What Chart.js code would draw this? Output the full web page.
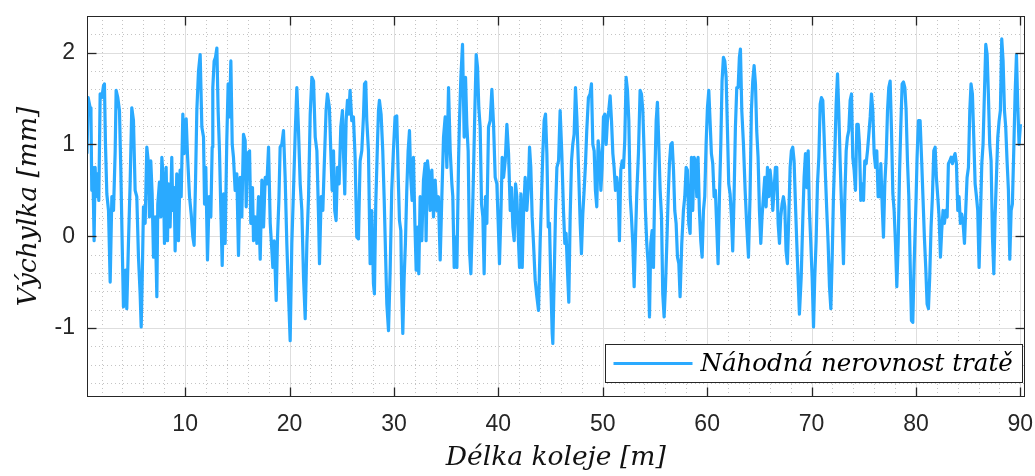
<!DOCTYPE html>
<html>
<head>
<meta charset="utf-8">
<script src="https://cdn.jsdelivr.net/npm/chart.js@4.4.1/dist/chart.umd.min.js"></script>
<style>
  html, body { margin: 0; padding: 0; background: #ffffff; }
  #wrap { width: 1035px; height: 476px; }
</style>
</head>
<body>
<div id="wrap"><canvas id="c" width="1035" height="476"></canvas></div>
<script>
// ---- data ----
const seriesLabel = 'Náhodná nerovnost tratě';
const xTitle = 'Délka koleje [m]';
const yTitle = 'Výchylka [mm]';
const xTickValues = [10, 20, 30, 40, 50, 60, 70, 80, 90];
const yTickValues = [-1, 0, 1, 2];

const distanceM = [
  0.60,0.71,0.90,0.98,1.06,1.16,1.28,1.38,1.48,1.60,
  1.73,1.86,2.02,2.18,2.27,2.37,2.50,2.66,2.82,2.98,
  3.14,3.30,3.39,3.55,3.71,3.84,3.97,4.09,4.29,4.41,
  4.57,4.73,4.89,5.05,5.21,5.37,5.53,5.69,5.79,5.88,
  6.01,6.17,6.33,6.49,6.58,6.71,6.84,6.97,7.13,7.29,
  7.38,7.54,7.67,7.77,7.93,8.02,8.18,8.31,8.40,8.56,
  8.72,8.82,8.95,9.04,9.20,9.36,9.52,9.62,9.78,9.91,
  10.10,10.22,10.42,10.58,10.74,10.86,10.99,11.12,11.28,
  11.44,11.60,11.76,11.86,11.98,12.14,12.30,12.46,12.59,12.65,
  12.78,12.91,13.04,13.16,13.29,13.42,13.55,13.68,13.83,13.99,
  14.12,14.25,14.38,14.51,14.63,14.79,14.95,15.11,15.27,15.43,
  15.59,15.75,15.85,15.97,16.17,16.29,16.45,16.55,16.71,16.87,
  17.03,17.19,17.35,17.51,17.67,17.83,17.99,18.15,18.31,18.40,
  18.53,18.72,18.85,18.98,19.10,19.26,19.42,19.58,19.74,19.90,
  20.06,20.22,20.38,20.54,20.70,20.86,21.02,21.18,21.34,21.50,
  21.66,21.82,21.98,22.14,22.30,22.46,22.62,22.78,22.87,
  23.03,23.19,23.31,23.50,23.63,23.82,23.95,24.08,24.21,24.33,
  24.46,24.59,24.75,24.91,25.07,25.17,25.29,25.42,25.55,25.68,
  25.80,25.96,26.12,26.28,26.44,26.60,26.76,26.92,27.08,27.18,
  27.30,27.40,27.56,27.72,27.88,28.04,28.13,28.26,28.42,28.52,
  28.61,28.77,28.93,29.06,29.19,29.32,29.48,29.64,29.79,29.95,
  30.11,30.27,30.43,30.53,30.66,30.75,30.85,30.98,31.10,31.23,
  31.36,31.49,31.61,31.74,31.87,32.00,32.13,32.25,32.38,32.51,
  32.67,32.83,32.99,33.08,33.21,33.34,33.47,33.63,33.79,33.95,
  34.11,34.26,
  34.43,34.59,34.75,34.91,35.07,35.23,35.39,35.55,35.64,35.77,
  35.90,36.03,36.19,36.28,36.41,36.57,36.73,36.86,36.98,37.11,
  37.24,37.37,37.50,37.62,37.75,37.88,38.01,38.13,38.26,38.39,
  38.52,38.64,38.77,38.90,39.06,39.22,39.38,39.54,39.70,39.86,
  39.99,40.11,40.24,40.37,40.50,40.66,40.82,40.98,41.14,41.26,
  41.39,41.52,41.65,41.77,41.90,42.03,42.16,42.29,42.41,42.57,
  42.73,42.89,42.99,43.11,43.24,43.37,43.53,43.69,43.85,44.01,
  44.14,44.26,44.39,44.52,44.65,44.78,44.90,45.03,45.16,45.22,
  45.35,45.48,45.61,45.77,
  45.92,46.08,46.24,46.37,46.49,46.62,46.75,46.88,47.01,47.13,
  47.26,47.39,47.52,47.68,47.84,47.96,48.09,48.22,48.35,48.47,
  48.63,48.79,48.92,49.05,49.18,49.30,49.43,49.56,49.69,49.82,
  49.94,50.07,50.20,50.33,50.45,50.58,50.71,50.84,50.97,51.09,
  51.22,51.35,51.48,51.60,51.73,51.86,51.99,52.11,52.24,52.37,
  52.50,52.63,52.75,52.88,53.01,53.14,53.26,53.42,53.58,53.71,
  53.84,53.97,54.09,54.22,54.35,54.48,54.60,54.73,54.86,54.99,
  55.12,55.24,55.37,55.50,55.63,55.75,55.88,56.01,56.14,56.27,
  56.39,56.52,56.65,56.78,56.90,57.03,57.16,57.29,
  57.41,57.57,57.73,57.86,57.99,58.11,58.24,58.37,58.50,58.62,
  58.75,58.88,59.01,59.13,59.26,59.39,59.52,59.65,59.77,59.90,
  60.03,60.16,60.28,60.41,60.54,60.67,60.79,60.92,61.05,61.18,
  61.31,61.43,61.56,61.69,61.82,61.94,62.07,62.20,62.33,62.45,
  62.58,62.71,62.84,62.97,63.09,63.19,63.32,63.48,63.64,63.80,
  63.96,64.11,64.24,64.37,64.50,64.63,64.75,64.88,65.01,65.14,
  65.26,65.39,65.52,65.65,65.78,65.90,66.03,66.16,66.29,66.41,
  66.54,66.67,66.80,66.93,67.05,67.18,67.31,67.44,67.56,67.69,
  67.82,67.95,68.07,68.20,68.33,68.46,68.59,68.71,68.84,
  69.01,69.17,69.29,69.42,69.55,69.68,69.80,69.93,70.06,70.19,
  70.31,70.44,70.57,70.70,70.83,70.95,71.08,71.21,71.34,71.46,
  71.59,71.72,71.85,71.98,72.10,72.23,72.36,72.49,72.61,72.74,
  72.87,73.00,73.06,73.19,73.32,73.44,73.57,73.70,73.83,73.95,
  74.08,74.21,74.34,74.47,74.59,74.72,74.85,74.98,75.10,75.23,
  75.36,75.49,75.62,75.74,75.87,76.00,76.13,76.25,76.38,76.51,
  76.64,76.77,76.89,77.02,77.15,77.28,77.40,77.53,77.66,77.79,
  77.91,78.04,78.17,78.30,78.43,78.55,78.68,78.81,78.94,79.06,
  79.19,79.32,79.45,79.57,79.70,79.83,
  80.02,80.11,80.24,80.40,80.56,80.72,80.81,80.94,81.07,81.20,
  81.32,81.45,81.58,81.71,81.84,81.96,82.09,82.22,82.35,82.47,
  82.60,82.73,82.86,82.99,83.11,83.24,83.37,83.50,83.62,83.75,
  83.88,84.01,84.13,84.26,84.39,84.52,84.65,84.77,84.90,85.03,
  85.16,85.28,85.41,85.54,85.67,85.80,85.92,86.05,86.18,86.31,
  86.43,86.56,86.69,86.82,86.94,87.07,87.20,87.33,87.46,87.58,
  87.71,87.84,87.97,88.09,88.22,88.35,88.48,88.60,88.73,88.86,
  88.99,89.12,89.24,89.37,89.50,89.63,89.75,89.88,90.01
];

const deviationMm = [
  0.90,1.51,1.40,1.33,0.50,0.75,-0.05,0.75,0.43,0.68,
  0.39,1.55,1.51,1.64,1.66,1.00,0.46,0.28,-0.50,0.43,
  0.28,0.93,1.59,1.51,1.37,0.72,-0.08,-0.77,-0.37,-0.79,
  -0.08,0.57,1.40,1.26,0.50,0.43,-0.23,-0.63,-0.99,-0.52,
  0.32,0.14,0.97,0.79,0.21,0.82,0.46,-0.23,0.21,-0.66,
  0.35,0.59,0.21,0.86,0.57,-0.08,0.75,-0.05,0.57,0.10,
  0.86,0.28,0.53,-0.16,0.68,-0.05,0.72,0.43,1.33,0.90,
  1.28,0.90,0.43,0.24,-0.01,-0.10,0.57,1.37,1.80,
  1.98,1.19,1.08,0.35,0.75,-0.26,0.43,0.21,0.97,1.62,
  1.91,1.95,2.05,1.37,0.93,0.28,-0.32,0.46,-0.08,1.04,
  1.66,1.30,1.91,1.00,0.86,0.50,0.68,-0.21,0.64,0.21,
  1.11,1.04,0.32,0.90,0.93,0.14,0.53,-0.05,0.21,-0.08,
  0.43,-0.25,0.61,0.10,0.64,0.57,0.97,0.14,-0.16,-0.34,
  -0.05,-0.70,-0.01,0.39,0.97,1.00,1.15,0.64,-0.08,-0.63,
  -1.14,-0.08,0.50,1.11,1.62,1.15,0.57,0.28,-0.45,-0.90,
  -0.08,0.43,1.33,1.73,1.69,1.08,0.93,0.21,-0.30,
  0.43,0.28,0.72,1.37,1.55,1.40,0.93,0.50,0.93,0.28,
  0.17,0.75,0.57,1.19,1.37,0.90,0.46,1.26,1.48,1.33,
  1.59,1.26,1.30,0.86,-0.01,-0.03,0.82,0.93,1.30,1.66,
  1.68,1.26,0.93,-0.30,0.28,-0.52,-0.63,0.35,1.00,1.37,
  1.48,1.33,0.93,0.43,-0.16,-0.74,-1.03,-0.37,0.50,0.93,
  1.30,1.31,0.57,0.17,0.06,-0.63,-1.06,-0.45,-0.08,0.50,
  0.93,1.15,0.64,0.39,0.86,0.17,-0.37,0.10,-0.41,0.43,
  -0.05,0.61,0.79,-0.05,0.82,0.68,0.28,0.72,0.21,0.61,
  0.28,0.43,
  -0.26,0.43,1.08,1.30,0.75,1.62,0.93,0.57,0.43,-0.34,
  -0.01,-0.34,0.82,1.26,1.73,2.09,1.08,1.73,1.22,0.93,
  -0.16,-0.41,0.10,0.68,1.37,1.98,1.84,1.40,1.19,0.35,
  0.21,-0.41,0.43,0.14,1.19,1.26,1.60,1.22,0.64,0.57,
  0.14,-0.30,0.21,0.86,0.64,0.82,1.22,0.90,0.28,0.53,
  0.10,-0.05,0.57,0.43,0.03,-0.34,0.46,-0.34,0.24,0.64,
  0.28,0.57,0.97,0.75,0.21,-0.08,-0.48,-0.66,-0.81,-0.05,
  0.43,0.90,1.26,1.33,0.90,0.10,0.14,-0.52,-1.06,-1.17,
  -0.45,0.28,0.75,0.82,
  1.37,0.90,0.28,-0.08,0.03,-0.37,-0.72,0.21,0.82,1.00,
  1.11,1.62,1.30,0.75,0.14,-0.19,0.24,0.50,0.79,1.15,
  1.51,1.55,1.66,1.00,0.93,0.50,0.32,1.04,0.90,0.50,
  0.75,1.30,1.33,1.00,1.26,1.37,1.53,1.26,0.90,0.75,
  0.50,0.64,0.50,-0.05,0.72,0.82,0.75,1.04,1.73,1.59,
  1.26,0.43,0.21,-0.08,-0.55,-0.01,0.46,0.90,1.59,1.55,
  1.37,0.90,0.28,-0.08,-0.30,-0.88,-0.08,0.06,-0.34,0.64,
  1.26,1.46,1.00,0.50,0.21,-0.63,-0.88,-0.55,-0.08,0.43,
  0.79,1.00,1.02,0.72,0.28,0.14,-0.23,-0.30,
  -0.66,-0.08,0.28,0.43,0.75,0.72,0.14,0.03,0.86,0.28,
  0.86,0.82,0.43,0.86,0.28,-0.05,-0.23,0.28,0.43,1.00,
  1.40,1.59,1.26,0.90,0.79,0.43,0.50,0.10,-0.30,0.43,
  1.00,1.69,1.95,1.91,1.73,1.19,0.57,0.46,0.21,-0.16,
  0.43,1.19,1.62,1.62,1.95,2.04,1.37,1.00,0.50,0.10,
  -0.23,0.43,1.37,1.69,1.86,1.66,1.15,0.86,0.28,-0.08,
  0.21,0.43,0.64,0.32,0.75,0.43,0.72,0.57,0.28,0.50,
  0.75,0.75,0.14,-0.08,0.21,0.35,0.43,0.32,-0.16,-0.30,
  0.21,0.75,0.93,0.97,0.82,0.35,-0.08,-0.45,-0.85,
  -0.45,0.21,0.64,0.90,0.53,0.93,0.28,-0.08,-0.45,-0.99,
  -0.45,-0.05,0.57,0.86,1.44,1.51,1.48,1.08,0.64,0.28,
  -0.08,-0.55,-0.79,-0.23,0.43,0.90,1.44,1.77,1.37,0.82,
  0.35,-0.08,-0.30,0.43,0.93,1.08,1.15,1.48,1.55,0.86,
  0.72,0.50,1.22,1.22,1.00,0.39,0.57,0.39,0.82,0.79,
  0.93,1.11,1.30,1.55,1.37,0.90,0.75,0.93,0.43,0.43,
  0.79,0.32,-0.01,0.57,0.86,1.37,1.62,1.69,1.15,0.46,
  0.28,-0.08,-0.55,-0.08,0.68,1.19,1.66,1.68,1.62,1.37,
  0.82,0.43,-0.30,-0.92,-0.94,-0.30,
  0.43,0.86,1.26,1.26,0.79,0.28,-0.01,-0.34,-0.74,-0.79,
  -0.45,0.10,0.43,0.93,0.97,0.64,0.43,0.21,-0.23,0.06,
  0.28,0.14,0.28,0.21,0.79,0.82,0.86,0.79,0.86,0.90,
  0.79,0.28,0.43,0.14,0.24,0.14,-0.08,0.28,0.64,0.75,
  1.37,1.66,1.55,1.08,0.57,0.43,0.28,-0.34,0.21,0.79,
  1.00,1.55,2.09,1.98,1.55,1.00,0.82,-0.01,-0.41,0.21,
  0.64,1.08,1.26,1.37,2.15,1.91,1.37,1.19,0.82,0.50,
  -0.25,0.28,0.35,0.93,1.55,1.98,1.44,1.00,1.22
];

// ---- styling ----
const lineColor = '#2AAAFF';
const axisColor = '#262626';
const majorGridColor = '#dedede';
const minorGridColor = '#c4c4c4';

const points = distanceM.map((x, i) => ({ x: x, y: deviationMm[i] }));

const matlabAxes = {
  id: 'matlabAxes',
  beforeDatasetsDraw(chart) {
    const { ctx, chartArea: a, scales: { x, y } } = chart;
    ctx.save();
    ctx.strokeStyle = minorGridColor;
    ctx.lineWidth = 1;
    ctx.setLineDash([1, 3]);
    for (let v = 2; v < x.max; v += 2) {
      if (v % 10 === 0) continue;
      const px = Math.round(x.getPixelForValue(v)) + 0.5;
      ctx.beginPath(); ctx.moveTo(px, a.top); ctx.lineTo(px, a.bottom); ctx.stroke();
    }
    for (let k = -8; k <= 12; k++) {
      if (k % 5 === 0) continue;
      const v = k * 0.2;
      if (v < y.min || v > y.max) continue;
      const py = Math.round(y.getPixelForValue(v)) + 0.5;
      ctx.beginPath(); ctx.moveTo(a.left, py); ctx.lineTo(a.right, py); ctx.stroke();
    }
    ctx.setLineDash([]);
    ctx.strokeStyle = majorGridColor;
    xTickValues.forEach(v => {
      const px = Math.round(x.getPixelForValue(v)) + 0.5;
      ctx.beginPath(); ctx.moveTo(px, a.top); ctx.lineTo(px, a.bottom); ctx.stroke();
    });
    yTickValues.forEach(v => {
      const py = Math.round(y.getPixelForValue(v)) + 0.5;
      ctx.beginPath(); ctx.moveTo(a.left, py); ctx.lineTo(a.right, py); ctx.stroke();
    });
    ctx.restore();
  },
  afterDatasetsDraw(chart) {
    const { ctx, chartArea: a, scales: { x, y } } = chart;
    ctx.save();
    ctx.strokeStyle = axisColor;
    ctx.lineWidth = 1;
    const L = Math.round(a.left) + 0.5, R = Math.round(a.right) - 0.5;
    const T = Math.round(a.top) + 0.5, B = Math.round(a.bottom) - 0.5;
    ctx.strokeRect(L, T, R - L, B - T);
    const tl = 9;
    ctx.lineWidth = 1.3;
    xTickValues.forEach(v => {
      const px = Math.round(x.getPixelForValue(v)) + 0.5;
      ctx.beginPath(); ctx.moveTo(px, B); ctx.lineTo(px, B - tl); ctx.stroke();
      ctx.beginPath(); ctx.moveTo(px, T); ctx.lineTo(px, T + tl); ctx.stroke();
    });
    yTickValues.forEach(v => {
      const py = Math.round(y.getPixelForValue(v)) + 0.5;
      ctx.beginPath(); ctx.moveTo(L, py); ctx.lineTo(L + tl, py); ctx.stroke();
      ctx.beginPath(); ctx.moveTo(R, py); ctx.lineTo(R - tl, py); ctx.stroke();
    });
    // legend box (bottom-right, inside axes)
    const ds = chart.data.datasets[0];
    const bw = 417, bh = 38;
    const bx = Math.round(a.right - 3 - bw) + 0.5;
    const by = Math.round(a.bottom - 15 - bh) + 0.5;
    ctx.fillStyle = '#ffffff';
    ctx.fillRect(bx, by, bw, bh);
    ctx.lineWidth = 1;
    ctx.strokeStyle = axisColor;
    ctx.strokeRect(bx, by, bw, bh);
    const cy = by + bh / 2;
    ctx.strokeStyle = ds.borderColor;
    ctx.lineWidth = 2.8;
    ctx.beginPath(); ctx.moveTo(bx + 8, cy); ctx.lineTo(bx + 87, cy); ctx.stroke();
    ctx.fillStyle = '#000000';
    ctx.font = 'italic 24.5px "DejaVu Serif"';
    ctx.textBaseline = 'middle';
    ctx.textAlign = 'left';
    ctx.fillText(ds.label, bx + 95, cy + 1);
    ctx.restore();
  }
};

new Chart(document.getElementById('c'), {
  type: 'line',
  data: {
    datasets: [{
      label: seriesLabel,
      data: points,
      borderColor: lineColor,
      backgroundColor: lineColor,
      borderWidth: 3.2,
      pointRadius: 0,
      tension: 0,
      fill: false,
      borderJoinStyle: 'round'
    }]
  },
  options: {
    responsive: false,
    animation: false,
    devicePixelRatio: 1,
    layout: { padding: { top: 16, right: 10.5, left: 0, bottom: 0 } },
    plugins: { legend: { display: false }, tooltip: { enabled: false } },
    scales: {
      x: {
        type: 'linear',
        min: 0.6,
        max: 90.4,
        grid: { display: false },
        border: { display: false },
        afterBuildTicks: s => { s.ticks = xTickValues.map(v => ({ value: v })); },
        afterFit: s => { s.height = 79.3; s.paddingLeft = 0; s.paddingRight = 0; },
        ticks: {
          autoSkip: false, maxRotation: 0, padding: 6,
          color: axisColor,
          font: { family: '"Liberation Sans", Arial, sans-serif', size: 23 }
        },
        title: {
          display: true, text: xTitle, color: '#111111',
          font: { family: '"DejaVu Serif", serif', style: 'italic', size: 26.5 },
          padding: { top: 0, bottom: 2 }
        }
      },
      y: {
        type: 'linear',
        min: -1.75,
        max: 2.4,
        grid: { display: false },
        border: { display: false },
        afterBuildTicks: s => { s.ticks = yTickValues.map(v => ({ value: v })); },
        afterFit: s => { s.width = 87; s.paddingTop = 0; s.paddingBottom = 0; },
        ticks: {
          autoSkip: false, padding: 4,
          color: axisColor,
          font: { family: '"Liberation Sans", Arial, sans-serif', size: 23 }
        },
        title: {
          display: true, text: yTitle, color: '#111111',
          font: { family: '"DejaVu Serif", serif', style: 'italic', size: 26.5 },
          padding: { top: 13, bottom: 0 }
        }
      }
    }
  },
  plugins: [matlabAxes]
});
</script>
</body>
</html>
